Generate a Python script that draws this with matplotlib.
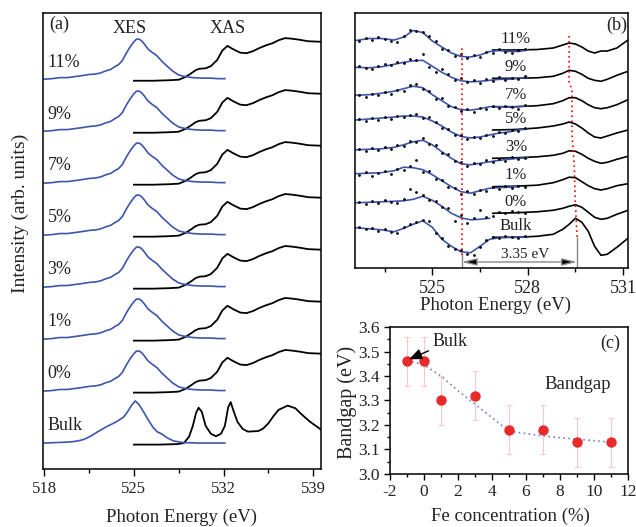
import numpy as np
import matplotlib
matplotlib.use('Agg')
import matplotlib.pyplot as plt
from matplotlib.ticker import MultipleLocator

plt.rcParams['font.family'] = ['Liberation Serif', 'DejaVu Serif']
plt.rcParams['axes.unicode_minus'] = False

# ---------------- panel (a): XES / XAS spectra ----------------
a_labels = ['Bulk', '0%', '1%', '3%', '5%', '7%', '9%', '11%']
a_offsets = [0, 1, 2, 3, 4, 5, 6, 7]

xes_e = [518.0, 518.6, 519.2, 519.8, 520.4, 521.0, 521.5, 522.0, 522.4, 522.8, 523.2, 523.5,
         523.8, 524.1, 524.4, 524.7, 525.0, 525.2, 525.4, 525.6, 525.8, 526.1, 526.4, 526.8,
         527.2, 527.6, 528.0, 528.5, 529.0, 529.6, 530.3, 531.0, 531.6, 532.1]
xes_i = [0.00, 0.01, 0.03, 0.03, 0.05, 0.07, 0.09, 0.10, 0.12, 0.16, 0.19, 0.24,
         0.28, 0.36, 0.50, 0.62, 0.72, 0.77, 0.77, 0.74, 0.68, 0.58, 0.52, 0.45,
         0.34, 0.25, 0.16, 0.08, 0.05, 0.03, 0.02, 0.02, 0.01, 0.01]

xes_bulk_e = [518.0, 519.0, 520.0, 520.6, 521.1, 521.6, 522.0, 522.4, 522.9, 523.4, 523.7,
              524.2, 524.5, 524.8, 525.1, 525.4, 525.8, 526.1, 526.5, 526.8, 527.2, 527.6,
              528.1, 528.8, 530.0, 532.1]
xes_bulk_i = [0.00, 0.01, 0.02, 0.04, 0.07, 0.13, 0.19, 0.25, 0.32, 0.38, 0.42,
              0.50, 0.60, 0.72, 0.81, 0.74, 0.58, 0.45, 0.30, 0.22, 0.17, 0.10,
              0.04, 0.01, 0.00, 0.00]

xas_e = [525.0, 526.5, 527.8, 528.5, 529.0, 529.4, 529.8, 530.1, 530.6, 531.0, 531.5, 531.9,
         532.3, 532.8, 533.3, 533.8, 534.3, 534.8, 535.3, 535.8, 536.3, 536.8, 537.3, 537.9,
         538.6, 539.6]
xas_i = [-0.03, -0.03, -0.02, -0.01, 0.04, 0.10, 0.17, 0.20, 0.21, 0.25, 0.37, 0.55,
         0.64, 0.57, 0.51, 0.50, 0.54, 0.60, 0.65, 0.69, 0.75, 0.79, 0.78, 0.76,
         0.73, 0.72]

xas_bulk_e = [525.0, 527.0, 528.4, 528.9, 529.3, 529.6, 529.85, 530.05, 530.3, 530.6, 531.0,
              531.4, 531.8, 532.1, 532.35, 532.55, 532.8, 533.1, 533.5, 533.9, 534.7, 535.1,
              535.5, 535.9, 536.3, 537.0, 537.6, 538.1, 538.7, 539.2, 539.6]
xas_bulk_i = [-0.03, -0.03, -0.02, 0.00, 0.12, 0.33, 0.58, 0.68, 0.60, 0.33, 0.18,
              0.13, 0.18, 0.33, 0.68, 0.79, 0.60, 0.40, 0.27, 0.22, 0.23, 0.28,
              0.38, 0.52, 0.64, 0.72, 0.67, 0.55, 0.42, 0.33, 0.26]

# ---------------- panel (b): band edge region ----------------
b_labels = ['Bulk', '0%', '1%', '3%', '5%', '7%', '9%', '11%']
b_offsets = [0, 24, 50.6, 79, 107.3, 130.6, 159, 187.3]

blue_e = [522.6, 523.0, 523.4, 523.8, 524.1, 524.4, 524.7, 525.0, 525.3, 525.6, 525.9,
          526.2, 526.5, 526.8, 527.1, 527.4, 527.7, 528.0]
blue_i = [
    [9.5, 8.5, 7.5, 5.5, 9, 13, 16.5, 10, -2, -9, -14.5, -15.5, -9, -2, -0.5, 0, 0, 0],
    [10.5, 11, 11.5, 12, 12.5, 14, 17, 13, 7, 0, -4.5, -6.5, -6, -5, np.nan, np.nan, np.nan, np.nan],
    [13, 13.5, 14, 16, 19.5, 19, 17, 12, 6, 0, -5, -6.5, -4, -1.5, -1, -0.5, 0, np.nan],
    [8.5, 9, 9.5, 11, 13.5, 16.5, 18, 13.5, 6.5, 0, -5.5, -6.5, -5, -3.5, -2, -1, 0, 0.5],
    [10, 11, 12, 13, 14, 14, 13, 9, 4, -2, -6.5, -8, -7, -5, -3, -2, 0, 1],
    [11.5, 12, 13.5, 15.5, 18, 20.5, 19, 12, 6, 0, -3, -3.5, -2, 0, 0, -0.5, 0, 1],
    [11, 10.5, 11.5, 14, 16, 17.5, 18, 12, 6, 1, -2.5, -3.5, -3, -2, -1, -1, 0, 1],
    [9.5, 11.5, 11.5, 10, 13, 19.5, 17.5, 9, 3, -3, -6.5, -7, -5, -1.5, -0.5, -1.5, -1.5, 0],
]

black_e = [526.9, 527.6, 528.3, 528.8, 529.1, 529.3, 529.5, 529.7, 529.9, 530.1, 530.3,
           530.5, 530.8, 531.15]
black_i = [
    [0, 0, 1, 3, 8, 13, 19, 15, 6, -9, -18, -17, -10, -1],
    [0, 0.5, 1.5, 3, 5, 7, 8.5, 6, 1, -4, -6, -5, -1, 3],
    [0, 0.5, 1.5, 4, 7, 9.5, 9, 5, 1, -2, -3.3, -2, 1, 3],
    [0, 0.5, 1.5, 3, 5, 7.5, 7, 4, 0, -3, -5, -4, -1, 2],
    [0, 0.5, 2, 4, 6, 8, 6, 2, -3, -7, -8, -6, -3, 0],
    [0, 0, 1, 3, 6, 9, 9, 6, 2, -1, -2, -1, 2, 7],
    [0, 0, 0.5, 2, 5, 8, 7, 4, 0, -2, -3, -1, 3, 7],
    [0, 0, 0.5, 2, 5, 7, 6, 3, -1, -3, -1, -1, 2, 10],
]

dot_e = [522.7, 522.9, 523.1, 523.3, 523.5, 523.7, 523.9, 524.1, 524.3, 524.5, 524.7, 524.9,
         525.1, 525.3, 525.5, 525.7, 525.9, 526.1, 526.3, 526.5, 526.7, 526.9, 527.1, 527.3,
         527.5, 527.7, 527.9]
dot_i = [
    [10, 8, 9, 6, 8, 5, 4, 10, 13, 15, 17, 16, 4, -1, -9, -12, -13, -17, -18, -10, -3, 0, -1, 1, 0, -1, 1],
    [11, 9, 12, 10, 13, 11, 10, 14, 24, 21, 18, 13, 12, 6, 5, -8, -2, -10, -5, 3, -4, -3, 1, 0, 2, 1, 0],
    [12, 15, 11, 14, 16, 13, 18, 17, 21, 27, 15, 16, 8, 7, 0, -1, -7, -4, -7, -3, -4, 0, -2, 1, -1, 1, 0],
    [9, 7, 10, 8, 11, 9, 13, 12, 17, 16, 20, 14, 13, 5, 4, -3, -4, -8, -5, -6, -2, -4, -1, -3, 1, -1, 0],
    [11, 9, 12, 10, 13, 11, 14, 13, 15, 16, 12, 13, 8, 2, 1, -5, -5, -9, -7, -8, -5, -6, -2, -3, 0, -1, 2],
    [12, 10, 13, 12, 15, 13, 17, 16, 22, 23, 18, 16, 8, 9, 1, 0, -4, -2, -5, -1, -2, 1, -1, 1, 0, -2, 2],
    [12, 10, 9, 12, 14, 13, 16, 15, 19, 18, 24, 11, 6, 9, 4, -2, 0, -4, -2, -5, -1, -3, 1, -2, 0, -1, 2],
    [9, 12, 10, 13, 11, 9, 8, 14, 20, 19, 18, 14, 9, 1, 0, -6, -4, -8, -5, -7, -2, -3, 1, -2, -3, 0, 1],
]

# peak / edge positions used for the guide lines
vbm_e = 525.92
cbm_e = [529.55, 529.49, 529.46, 529.39, 529.39, 529.30, 529.30]
cbm_y = [0.3, 37.3, 72.3, 102.3, 147.3, 155.3, 202.3]

# ---------------- panel (c): bandgap ----------------
fe_conc = [-1, 0, 1, 3, 5, 7, 9, 11]
bandgap = [3.46, 3.46, 3.30, 3.32, 3.18, 3.18, 3.13, 3.13]
bandgap_err = [0.1, 0.1, 0.1, 0.1, 0.1, 0.1, 0.1, 0.1]
fit_x = [-1, -0.5, 0, 1, 2, 3, 4, 5, 6, 7, 8, 9, 10, 11]
fit_y = [3.46, 3.455, 3.445, 3.40, 3.34, 3.285, 3.23, 3.175, 3.165, 3.155, 3.148, 3.142, 3.136, 3.13]

txt = '#222222'
blue = '#3d55aa'

fig = plt.figure(figsize=(6.36, 5.27), dpi=100)

# ---- (a)
ax = fig.add_axes([0.0676, 0.110, 0.437, 0.865])
for lab, off in zip(a_labels, a_offsets):
    if lab == 'Bulk':
        ex, ey, bx, by = xes_bulk_e, xes_bulk_i, xas_bulk_e, xas_bulk_i
    else:
        ex, ey, bx, by = xes_e, xes_i, xas_e, xas_i
    ax.plot(bx, np.array(by) + off, color='black', lw=1.3)
    ax.plot(ex, np.array(ey) + off, color=blue, lw=1.2)
    ax.text(518.25, off + 0.33, lab, fontsize=13, color=txt, va='center', ha='left')
ax.text(524.7, 7.98, 'XES', fontsize=13, color=txt, ha='center', va='center')
ax.text(532.3, 7.98, 'XAS', fontsize=13, color=txt, ha='center', va='center')
ax.text(519.2, 8.05, '(a)', fontsize=13, color=txt, ha='center', va='center')
ax.set_xlim(517.9, 539.6)
ax.set_ylim(-0.5, 8.27)
ax.set_yticks([])
ax.set_xticks([518, 525, 532, 539])
ax.xaxis.set_minor_locator(MultipleLocator(3.5))
ax.tick_params(axis='x', which='major', direction='out', length=5, width=1, labelsize=12, labelcolor=txt)
ax.tick_params(axis='x', which='minor', direction='out', length=3, width=1)
ax.set_xlabel('Photon Energy (eV)', fontsize=13.5, color=txt, va='center')
ax.xaxis.set_label_coords(0.499, -0.105)
ax.set_ylabel('Intensity (arb. units)', fontsize=14, color=txt, va='center')
ax.yaxis.set_label_coords(-0.083, 0.56)
for s in ax.spines.values():
    s.set_linewidth(1.1)

# ---- (b)
bx_ = fig.add_axes([0.5582, 0.4915, 0.4292, 0.4838])
for k, (lab, off) in enumerate(zip(b_labels, b_offsets)):
    bx_.plot(black_e, np.array(black_i[k]) + off, color='black', lw=1.2)
    bx_.plot(blue_e, np.array(blue_i[k]) + off, color=blue, lw=1.2)
    bx_.plot(dot_e, np.array(dot_i[k]) + off, 'o', color='black', ms=2, mew=0)
    bx_.text(527.63, off + 11.5, lab, fontsize=12, color=txt, ha='center', va='center')
bx_.plot([vbm_e, vbm_e], [-17.7, 189.3], color='red', ls=(0, (1, 2)), lw=1.2)
bx_.plot(cbm_e, cbm_y, color='red', ls=(0, (1, 2)), lw=1.2)
bx_.plot([vbm_e, vbm_e], [-18, -31], color='#888888', lw=1)
bx_.plot([cbm_e[0], cbm_e[0]], [-0.5, -31], color='#888888', lw=1)
bx_.annotate('', xy=(vbm_e, -24.7), xytext=(cbm_e[0], -24.7),
             arrowprops=dict(arrowstyle='<|-|>,head_length=0.9,head_width=0.22',
                             fc='black', ec='#888888', lw=1, shrinkA=0, shrinkB=0))
bx_.text(527.91, -17.7, '3.35 eV', fontsize=11, color=txt, ha='center', va='center')
bx_.text(530.81, 212.3, '(b)', fontsize=13, color=txt, ha='center', va='center')
bx_.set_xlim(522.57, 531.15)
bx_.set_ylim(-30.7, 224.3)
bx_.set_yticks([])
bx_.set_xticks([525, 528, 531])
bx_.xaxis.set_minor_locator(MultipleLocator(1.5))
bx_.tick_params(axis='x', which='major', direction='out', length=5, width=1, labelsize=13, labelcolor=txt)
bx_.tick_params(axis='x', which='minor', direction='out', length=3, width=1)
bx_.set_xlabel('Photon Energy (eV)', fontsize=13.5, color=txt, va='center')
bx_.xaxis.set_label_coords(0.513, -0.148)
for s in bx_.spines.values():
    s.set_linewidth(1.1)

# ---- (c)
cx = fig.add_axes([0.6132, 0.1006, 0.3742, 0.2789])
cx.plot(fit_x, fit_y, color='#6f80d6', ls=(0, (1, 2)), lw=1.2)
cx.errorbar(fe_conc, bandgap, yerr=bandgap_err, fmt='none', ecolor='#f5c9c9', elinewidth=0.8,
            capsize=2, capthick=0.8)
cx.plot(fe_conc, bandgap, 'o', color='#e82a2a', ms=7.5, mew=0)
cx.annotate('Bulk', xy=(fe_conc[0] + 0.12, bandgap[0] + 0.008), xytext=(0.5, 3.541),
            fontsize=13, color=txt, va='center', ha='left',
            arrowprops=dict(arrowstyle='-|>,head_length=0.6,head_width=0.25', fc='black',
                            ec='black', lw=1, shrinkA=1, shrinkB=0))
cx.text(9.05, 3.364, 'Bandgap', fontsize=13.5, color=txt, ha='center', va='center')
cx.text(10.95, 3.535, '(c)', fontsize=13, color=txt, ha='center', va='center')
cx.set_xlim(-2, 12)
cx.set_ylim(3.0, 3.6)
cx.xaxis.set_major_locator(MultipleLocator(2))
cx.xaxis.set_minor_locator(MultipleLocator(1))
cx.yaxis.set_major_locator(MultipleLocator(0.1))
cx.yaxis.set_minor_locator(MultipleLocator(0.05))
cx.tick_params(which='major', direction='out', length=4, width=1, labelsize=12.5, labelcolor=txt)
cx.tick_params(which='minor', direction='out', length=2, width=1)
cx.set_xlabel('Fe concentration (%)', fontsize=13.5, color=txt, va='center')
cx.xaxis.set_label_coords(0.504, -0.285)
cx.set_ylabel('Bandgap (eV)', fontsize=14.5, color=txt, va='center')
cx.yaxis.set_label_coords(-0.18, 0.49)
for s in cx.spines.values():
    s.set_linewidth(1.1)

fig.savefig('out.png', dpi=100)
